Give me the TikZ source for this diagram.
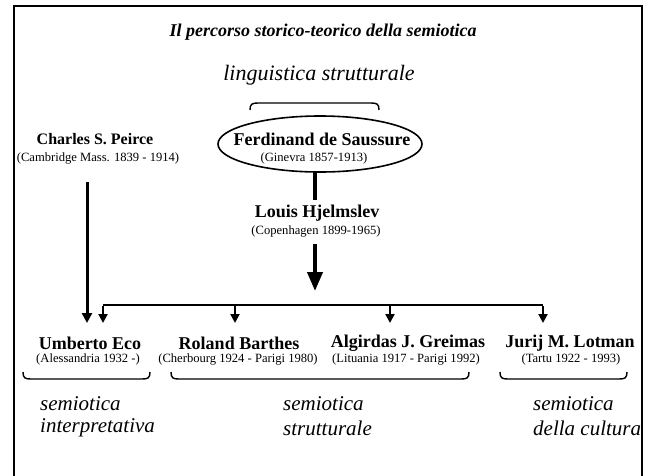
\documentclass[tikz,border=0pt]{standalone}
\usepackage{fontspec}
\setmainfont{Liberation Serif}
\usetikzlibrary{arrows.meta}
\tikzset{
  nm/.style={inner sep=0pt, font=\fontsize{18}{20}\selectfont\bfseries},
  dt/.style={inner sep=0pt, font=\fontsize{12.6}{14}\selectfont},
  lbl/.style={inner sep=0pt, anchor=west, font=\fontsize{21}{23}\selectfont\itshape},
  brace/.style={line width=1.4pt},
  thin arrow/.style={line width=2pt, -{Triangle[width=9pt,length=9pt]}},
}
\begin{document}
\begin{tikzpicture}[x=1pt,y=-1pt]
\useasboundingbox (0,0) rectangle (649,475);
\fill[white] (0,0) rectangle (649,475);
% frame
\draw[line width=2.2pt] (14,478) -- (14,6) -- (642,6) -- (642,478);
% title
\node[inner sep=0pt, font=\fontsize{18}{20}\selectfont\bfseries\itshape] (title) at (323,32) {Il percorso storico-teorico della semiotica};
\node[inner sep=0pt, font=\fontsize{22}{24}\selectfont\itshape] (ling) at (319,75) {linguistica strutturale};
% top brace
\coordinate (tbL) at (250,110);
\coordinate (tbR) at (379,110);
\draw[brace] (tbL) .. controls (250,104) and (252,103) .. (258,103) -- (371,103) .. controls (377,103) and (379,104) .. (tbR);
% Saussure
\draw[line width=1.6pt] (320,144) ellipse [x radius=102, y radius=28] node[coordinate] (ell) {};
\node[nm] (saus) at (322,139) {Ferdinand de Saussure};
\node[dt] (sausd) at (314,158) {(Ginevra 1857-1913)};
\coordinate (ellB) at (315,171);
% Peirce
\node[nm, font=\fontsize{16}{18}\selectfont\bfseries] (peirce) at (95,139) {Charles S. Peirce};
\node[dt] (peirced) at (98,158) {(Cambridge Mass. 1839 - 1914)};
\coordinate (pA) at (87,182);
\coordinate (pB) at (87,323);
% Hjelmslev
\node[nm] (hjel) at (317,213) {Louis Hjelmslev};
\node[dt] (hjeld) at (316,231) {(Copenhagen 1899-1965)};
\coordinate (hjA) at (315,200);
\draw[line width=4pt] (ellB) -- (hjA);
\coordinate (arA) at (315,244);
\coordinate (arB) at (315,291);
\draw[line width=4pt, -{Triangle[width=15pt,length=19pt]}] (arA) -- (arB);
% bar
\coordinate (b1) at (103,305);
\coordinate (b2) at (235,305);
\coordinate (b3) at (390,305);
\coordinate (b4) at (543,305);
\draw[line width=2pt] (b1) -- (b4);
\coordinate (t1) at (103,323);
\coordinate (t2) at (235,323);
\coordinate (t3) at (390,323);
\coordinate (t4) at (543,323);
\draw[thin arrow] ([yshift=-1pt]b1) -- (t1);
\draw[thin arrow] (b2) -- (t2);
\draw[thin arrow] (b3) -- (t3);
\draw[thin arrow] ([yshift=-1pt]b4) -- (t4);
\draw[line width=3pt, -{Triangle[width=10pt,length=10pt]}] (pA) -- (pB);
% bottom names
\node[nm] (eco) at (90,343) {Umberto Eco};
\node[dt] (ecod) at (88,359) {(Alessandria 1932 -)};
\node[nm] (barthes) at (239,343) {Roland Barthes};
\node[dt] (barthesd) at (238,359) {(Cherbourg 1924 - Parigi 1980)};
\node[nm] (greimas) at (408,343) {Algirdas J. Greimas};
\node[dt] (greimasd) at (406,359) {(Lituania 1917 - Parigi 1992)};
\node[nm] (lotman) at (570,343) {Jurij M. Lotman};
\node[dt] (lotmand) at (571,359) {(Tartu 1922 - 1993)};
% bottom braces
\draw[brace] (23,372) .. controls (23,378) and (25,379) .. (31,379) -- (142,379) .. controls (148,379) and (150,378) .. (150,372);
\draw[brace] (171,372) .. controls (171,378) and (173,379) .. (179,379) -- (461,379) .. controls (467,379) and (469,378) .. (469,372);
\draw[brace] (500,372) .. controls (500,378) and (502,379) .. (508,379) -- (619,379) .. controls (625,379) and (627,378) .. (627,372);
% labels
\node[lbl] (l1a) at (40,404) {semiotica};
\node[lbl] (l1b) at (40,428) {interpretativa};
\node[lbl] (l2a) at (283,404) {semiotica};
\node[lbl] (l2b) at (283,428) {strutturale};
\node[lbl] (l3a) at (533,404) {semiotica};
\node[lbl] (l3b) at (533,428) {della cultura};
\end{tikzpicture}
\end{document}
